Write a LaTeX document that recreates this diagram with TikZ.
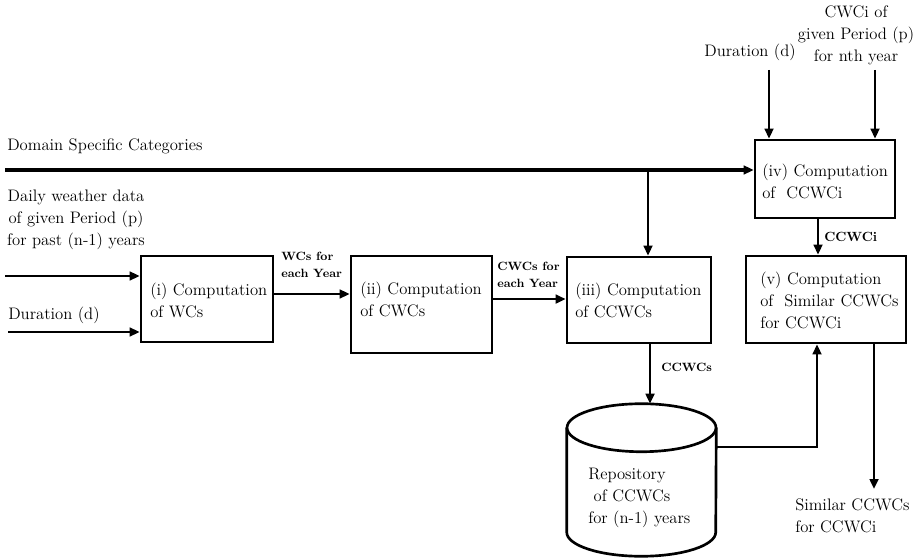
\documentclass[tikz,border=0pt]{standalone}
\usetikzlibrary{arrows.meta}
\begin{document}
\begin{tikzpicture}[x=0.75pt,y=-0.75pt,
    box/.style={draw,line width=2pt,inner sep=0pt},
    txt/.style={inner sep=0pt,font=\fontsize{12.5}{16.5}\selectfont},
    lbl/.style={inner sep=0pt,align=left,font=\fontsize{9}{13}\selectfont\bfseries},
    arr/.style={line width=2pt,-{Triangle[length=7.5pt,width=6.5pt]}}]
    \useasboundingbox (0,0) rectangle (917,559);
    % boxes
    \node[box,minimum width=99pt,minimum height=64.5pt] (i) at (207,299) {};
    \node[box,minimum width=105.75pt,minimum height=72.75pt] (ii) at (421.5,304.5) {};
    \node[box,minimum width=108pt,minimum height=64.5pt] (iii) at (639,300) {};
    \node[box,minimum width=105pt,minimum height=58.5pt] (iv) at (825,179) {};
    \node[box,minimum width=120pt,minimum height=65.25pt] (v) at (826,299.5) {};
    % repository
    \node[inner sep=0pt,minimum width=111.75pt,minimum height=114pt] (cyl) at (641.5,480) {};
    \draw[line width=2pt] ([yshift=-18pt]cyl.north) ellipse [x radius=55.875pt,y radius=18pt];
    \draw[line width=2pt] ([yshift=-18pt]cyl.north west) -- ([yshift=18pt]cyl.south west)
      arc[start angle=180,end angle=360,x radius=55.875pt,y radius=18pt] -- ([yshift=-18pt]cyl.north east);
    % texts in boxes
    \node[txt,anchor=west,align=left] (ti) at (150,300) {(i) Computation\\of WCs};
    \node[txt,anchor=west,align=left] (tii) at (360,299) {(ii) Computation\\of CWCs};
    \node[txt,anchor=west,align=left] (tiii) at (575,300) {(iii) Computation\\of CCWCs};
    \node[txt,anchor=west,align=left] (tiv) at (762,181) {(iv) Computation\\of~~CCWCi};
    \node[txt,anchor=west,align=left] (tv) at (760,300) {(v) Computation\\of~~Similar CCWCs\\for CCWCi};
    \node[txt,anchor=west,align=left] (tcyl) at (588,498) {Repository\\~of CCWCs\\for (n-1) years};
    % outside texts
    \node[txt,anchor=west] (dom) at (7,146) {Domain Specific Categories};
    \node[txt,align=center] (daily) at (76,220) {Daily weather data\\of given Period (p)\\for past (n-1) years};
    \node[txt,anchor=west] (dur) at (8,315) {Duration (d)};
    \node[txt] (durtop) at (750,52) {Duration (d)};
    \node[txt,align=center] (cwci) at (856,35) {CWCi of\\given Period (p)\\for nth year};
    \node[txt,anchor=north west,align=left] (sim) at (795,498) {Similar CCWCs\\for CCWCi};
    \node[lbl,anchor=west] (l1) at (281,265) {WCs for\\each Year};
    \node[lbl,anchor=west] (l2) at (497,275) {CWCs for\\each Year};
    \node[lbl,anchor=west] (l3) at (661,367) {CCWCs};
    \node[lbl,anchor=west,font=\fontsize{10}{12}\selectfont\bfseries] (l4) at (824,237) {CCWCi};
    % connectors
    \coordinate (domline) at (5,170);
    \coordinate (br) at (648,170);
    \coordinate (in1) at (5,276);
    \coordinate (in2) at (8,332);
    \coordinate (d2) at (769,70);
    \coordinate (c2) at (875,70);
    \coordinate (simend) at (874,489);
    \draw[arr,line width=3pt] (domline) -- (domline -| iv.west);
    \draw[arr] (br) -- (br |- iii.north);
    \draw[arr] (in1) -- (in1 -| i.west);
    \draw[arr] (in2) -- (in2 -| i.west);
    \draw[arr] ([yshift=3.75pt]i.east) -- ([yshift=3.75pt]i.east -| ii.west);
    \draw[arr] ([yshift=4.1pt]ii.east) -- ([yshift=4.1pt]ii.east -| iii.west);
    \draw[arr] (d2) -- (d2 |- iv.north);
    \draw[arr] (c2) -- (c2 |- iv.north);
    \draw[arr] ([xshift=-5.25pt]iv.south) -- ([xshift=-5.25pt]iv.south |- v.north);
    \draw[arr] ([xshift=8.25pt]iii.south) -- ([xshift=8.25pt]iii.south |- cyl.north);
    \draw[arr] ([yshift=24.75pt]cyl.east) -| ([xshift=-6.75pt]v.south);
    \draw[arr] (v.south -| simend) -- (simend);
\end{tikzpicture}
\end{document}
